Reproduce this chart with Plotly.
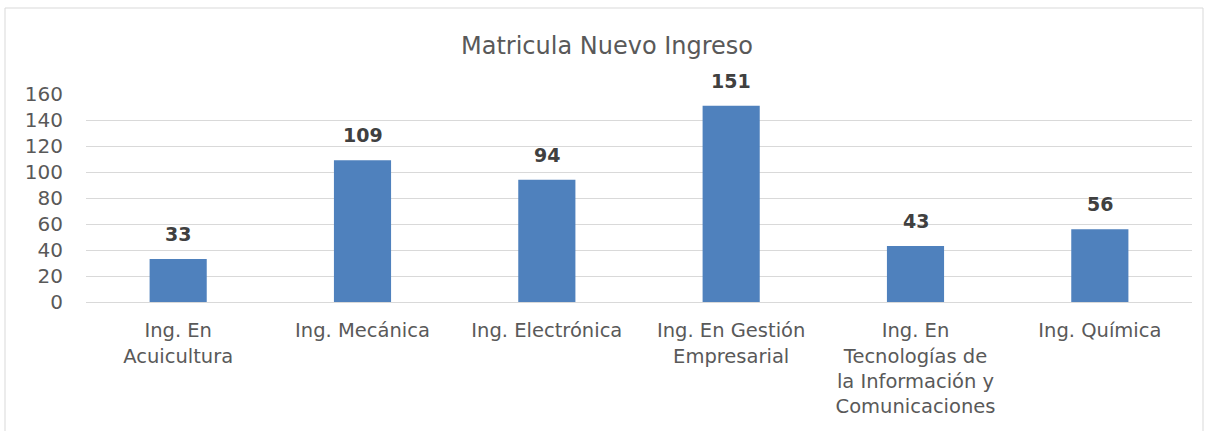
import plotly.graph_objects as go

categories = [
    "Ing. En<br>Acuicultura",
    "Ing. Mecánica",
    "Ing. Electrónica",
    "Ing. En Gestión<br>Empresarial",
    "Ing. En<br>Tecnologías de<br>la Información y<br>Comunicaciones",
    "Ing. Química",
]
values = [33, 109, 94, 151, 43, 56]
y_ticks = [0, 20, 40, 60, 80, 100, 120, 140, 160]

FONT = "DejaVu Sans"
W, H = 1214, 431
L, R, T, B = 86, 22, 94, 129
pw = W - L - R
ph = H - T - B

fig = go.Figure(
    go.Bar(
        x=categories,
        y=values,
        width=0.31,
        marker=dict(color="#4F81BD", line=dict(color="#4F81BD", width=0)),
        hoverinfo="x+y",
    )
)

annotations = [
    dict(
        x=c,
        y=v,
        xref="x",
        yref="y",
        text=str(v),
        showarrow=False,
        yanchor="bottom",
        xanchor="center",
        yshift=12,
        font=dict(family=FONT, size=19, color="#404040", weight="bold"),
    )
    for c, v in zip(categories, values)
]

fig.update_layout(
    width=W,
    height=H,
    margin=dict(l=L, r=R, t=T, b=B),
    paper_bgcolor="white",
    plot_bgcolor="white",
    showlegend=False,
    annotations=annotations,
    title=dict(
        text="Matricula Nuevo Ingreso",
        x=0.5,
        xref="container",
        y=1 - 46 / H,
        yref="container",
        xanchor="center",
        yanchor="middle",
        font=dict(family=FONT, size=24, color="#595959"),
    ),
    xaxis=dict(
        showgrid=False,
        showline=True,
        linecolor="#D9D9D9",
        linewidth=1,
        ticks="",
        tickfont=dict(family=FONT, size=19.5, color="#595959"),
        ticklabelstandoff=11,
    ),
    yaxis=dict(
        range=[0, 160],
        tickvals=y_ticks,
        showgrid=True,
        gridcolor="#D9D9D9",
        gridwidth=1,
        zeroline=False,
        showline=False,
        ticks="",
        tickfont=dict(family=FONT, size=20, color="#595959"),
        ticklabelstandoff=22,
    ),
    bargap=0.69,
    shapes=[
        dict(
            type="rect",
            xref="paper",
            yref="paper",
            x0=(5 - L) / pw,
            x1=(1203 - L) / pw,
            y0=-1.0,
            y1=(H - B - 8) / ph,
            line=dict(color="#D9D9D9", width=1),
            fillcolor="rgba(0,0,0,0)",
            layer="below",
        )
    ],
)

fig.write_html(
    "out.html",
    config={"displayModeBar": False},
    post_script="document.body.style.margin='0';",
)
